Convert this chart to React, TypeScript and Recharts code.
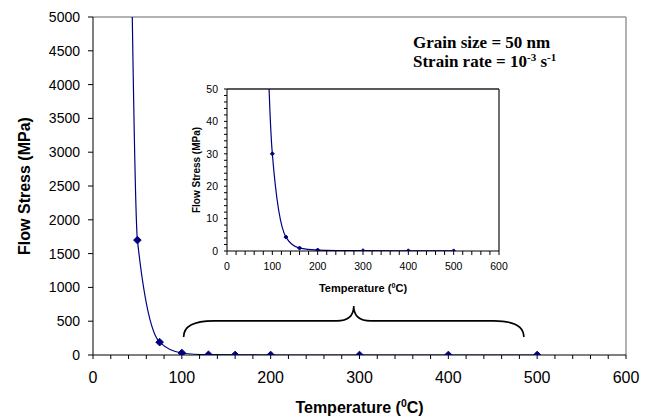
import React from 'react';
import { LineChart, Line, XAxis, YAxis, ReferenceLine, ReferenceArea, Label } from 'recharts';

// measured points (temperature in degC, flow stress in MPa)
const tempC = [40, 50, 75, 100, 130, 160, 200, 300, 400, 500];
const flowStress = [9000, 1700, 190, 30, 4.3, 0.9, 0.3, 0.1, 0.05, 0.03];

const mainXTicks = [0, 20, 40, 60, 80, 100, 120, 140, 160, 180, 200, 220, 240, 260, 280, 300, 320, 340, 360, 380, 400, 420, 440, 460, 480, 500, 520, 540, 560, 580, 600];
const mainYTicks = [0, 500, 1000, 1500, 2000, 2500, 3000, 3500, 4000, 4500, 5000];
const insetYTicks = [0, 2, 4, 6, 8, 10, 12, 14, 16, 18, 20, 22, 24, 26, 28, 30, 32, 34, 36, 38, 40, 42, 44, 46, 48, 50];

// bracket marking the range shown in the inset
const braceX = [102, 485];
const braceY = [266, 725];

const data = tempC.map((t, i) => ({ t, s: flowStress[i] }));

const NAVY = '#000080';
const FONT = '"Liberation Sans", Arial, sans-serif';

const diamond = (r: number) => (props: any) => {
  const { cx, cy, index } = props;
  if (cx == null || cy == null) return <g key={`d-${index}`} />;
  return (
    <path
      key={`d-${index}`}
      d={`M${cx},${cy - r} L${cx + r},${cy} L${cx},${cy + r} L${cx - r},${cy} Z`}
      fill={NAVY}
      stroke={NAVY}
    />
  );
};

const Brace = (props: any) => {
  const { x, y, width: w, height: h } = props;
  const level = y + h * 0.48;
  const mid = x + w * 0.5;
  const d = [
    `M${x},${y + h}`,
    `Q${x},${level} ${x + 30},${level}`,
    `L${mid - 17},${level}`,
    `Q${mid},${level} ${mid},${y}`,
    `Q${mid},${level} ${mid + 17},${level}`,
    `L${x + w - 30},${level}`,
    `Q${x + w},${level} ${x + w},${y + h}`,
  ].join(' ');
  return <path d={d} fill="none" stroke="#000" strokeWidth={1.6} />;
};

const xTitle = (dy: number, size: number) => (props: any) => {
  const vb = props.viewBox || {};
  const cx = vb.x + vb.width / 2;
  return (
    <text x={cx} y={vb.y + dy} textAnchor="middle" fontFamily={FONT} fontWeight="bold" fontSize={size} fill="#000">
      Temperature (
      <tspan dy={-size * 0.4} fontSize={size * 0.65}>0</tspan>
      <tspan dy={size * 0.4}>C)</tspan>
    </text>
  );
};

const yTitle = (dx: number, size: number) => (props: any) => {
  const vb = props.viewBox || {};
  const x = (vb.x || 0) + dx;
  const cy = vb.y + vb.height / 2;
  return (
    <text
      x={x}
      y={cy}
      transform={`rotate(-90 ${x} ${cy})`}
      textAnchor="middle"
      dominantBaseline="central"
      fontFamily={FONT}
      fontWeight="bold"
      fontSize={size}
      fill="#000"
    >
      Flow Stress (MPa)
    </text>
  );
};

export default function App() {
  return (
    <div style={{ position: 'absolute', left: 0, top: 0, width: 649, height: 419, background: '#fff', fontFamily: FONT }}>
      <LineChart width={649} height={419} data={data} margin={{ top: 17, right: 23, left: 0, bottom: 0 }}>
        <XAxis
          dataKey="t"
          type="number"
          domain={[0, 600]}
          ticks={mainXTicks}
          interval={0}
          tickFormatter={(v: number) => (v % 100 === 0 ? String(v) : '')}
          height={64}
          tickSize={4}
          tickMargin={13}
          stroke="#000"
          tick={{ fill: '#000', fontSize: 16 }}
        >
          <Label content={xTitle(58, 16)} />
        </XAxis>
        <YAxis
          type="number"
          domain={[0, 5000]}
          ticks={mainYTicks}
          interval={0}
          allowDataOverflow
          width={93}
          tickSize={5}
          tickMargin={8}
          stroke="#000"
          tick={{ fill: '#000', fontSize: 14 }}
        >
          <Label content={yTitle(24, 16)} />
        </YAxis>
        <ReferenceLine y={5000} stroke="#999" strokeWidth={1.5} />
        <ReferenceLine x={600} stroke="#999" strokeWidth={1.5} />
        <ReferenceArea x1={braceX[0]} x2={braceX[1]} y1={braceY[0]} y2={braceY[1]} shape={<Brace />} />
        <Line
          type="monotone"
          dataKey="s"
          stroke={NAVY}
          strokeWidth={1.2}
          dot={diamond(3.8)}
          activeDot={false}
          isAnimationActive={false}
        />
      </LineChart>

      <div style={{ position: 'absolute', left: 180, top: 80, width: 330, height: 220 }}>
        <LineChart width={330} height={220} data={data} margin={{ top: 9, right: 11, left: 0, bottom: 0 }}>
          <XAxis
            dataKey="t"
            type="number"
            domain={[0, 600]}
            ticks={mainXTicks}
            interval={0}
            tickFormatter={(v: number) => (v % 100 === 0 ? String(v) : '')}
            height={49}
            tickSize={4}
            tickMargin={8}
            stroke="#000"
            tick={{ fill: '#000', fontSize: 10.5 }}
          >
            <Label content={xTitle(41, 11)} />
          </XAxis>
          <YAxis
            type="number"
            domain={[0, 50]}
            ticks={insetYTicks}
            interval={0}
            allowDataOverflow
            tickFormatter={(v: number) => (v % 10 === 0 ? String(v) : '')}
            width={47}
            tickSize={3}
            tickMargin={6}
            stroke="#000"
            tick={{ fill: '#000', fontSize: 10.5 }}
          >
            <Label content={yTitle(16, 10)} />
          </YAxis>
          <ReferenceLine y={50} stroke="#222" strokeWidth={1.3} />
          <ReferenceLine x={600} stroke="#222" strokeWidth={1.3} />
          <Line
            type="monotone"
            dataKey="s"
            stroke={NAVY}
            strokeWidth={1.2}
            dot={diamond(2)}
            activeDot={false}
            isAnimationActive={false}
          />
        </LineChart>
      </div>

      <svg width={649} height={419} style={{ position: 'absolute', left: 0, top: 0, pointerEvents: 'none' }}>
        <text x={413} y={48} fontFamily='"Liberation Serif", "Times New Roman", serif' fontWeight="bold" fontSize={17} fill="#000">
          Grain size = 50 nm
        </text>
        <text x={413} y={67} fontFamily='"Liberation Serif", "Times New Roman", serif' fontWeight="bold" fontSize={17} fill="#000">
          Strain rate = 10
          <tspan dy={-6} fontSize={11}>-3</tspan>
          <tspan dy={6}> s</tspan>
          <tspan dy={-6} fontSize={11}>-1</tspan>
        </text>
      </svg>
    </div>
  );
}
